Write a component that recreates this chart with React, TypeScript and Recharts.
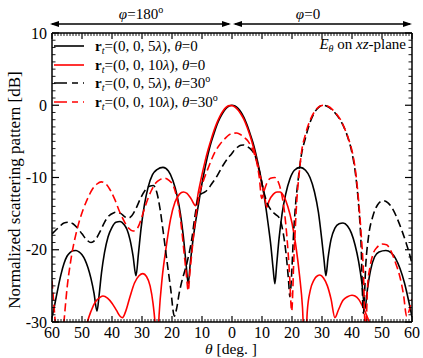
import React from 'react';
import { LineChart, Line, XAxis, YAxis } from 'recharts';

// ---- Data (theta in degrees: negative = phi=180 side, positive = phi=0 side) ----
const blackSolidTheta = [-60,-59,-58,-57,-56,-55,-54,-53,-52,-51,-50,-49,-48,-47,-46,-45,-44.3,-43.5,-42.5,-41.3,-40,-38.7,-37.3,-36,-35,-34,-33,-32,-31.2,-30.3,-29.2,-28,-26.5,-25,-23,-21.2,-19.7,-18.3,-17.2,-16.2,-15.3,-14.6,-13.9,-13,-12,-11,-10,-9,-8,-7,-6,-5,-4,-3,-2,-1,0,1,2,3,4,5,6,7,8,9,10,11,12,13,13.7,14.3,14.9,15.7,16.7,17.9,19.3,20.8,22.7,24.5,26,27.5,28.8,29.9,30.7,31.3,32,33,34.3,35.7,37,38.5,39.8,41,42.2,43.3,44.3,45.2,46.2,47.5,49,51.3,53,54.5,56,57.5,59,60];
const blackSolidDb = [-29.4,-27.4,-25.3,-23.4,-21.9,-20.9,-20.4,-20.15,-20.1,-20.3,-20.7,-21.4,-22.5,-24,-26,-28.5,-26.3,-23.2,-20.4,-18.2,-16.9,-16.2,-16.1,-16.5,-17.2,-18.6,-20.8,-23.6,-20.6,-17,-13.8,-11.4,-9.6,-8.9,-8.6,-9.1,-10.4,-12.5,-15,-18.2,-22,-24.7,-21.8,-18.6,-15.8,-13.3,-10.8,-8.7,-6.8,-5.2,-3.9,-2.7,-1.75,-1,-0.45,-0.12,0,-0.1,-0.42,-0.95,-1.7,-2.7,-3.9,-5.2,-6.8,-8.7,-10.8,-13.3,-16.3,-19.6,-22.6,-24.7,-22,-18.4,-15,-12.3,-10.2,-9,-8.6,-9,-10,-12,-14.8,-18.5,-21.5,-23.6,-21.2,-18.6,-17,-16.4,-16.3,-16.7,-17.7,-19.3,-21.6,-24.6,-28.2,-25.3,-22.8,-21,-20.3,-20.1,-20.4,-21.2,-22.6,-24.6,-27.3,-29.3];

const redSolidTheta = [-50,-48.5,-47,-45.5,-44,-43,-41.5,-40,-38.5,-37.3,-36.5,-35.5,-34,-32.5,-31,-29.7,-28.5,-27.3,-26.3,-25.5,-25,-24.3,-23.3,-22,-20.5,-19,-17.5,-16.2,-15,-13.7,-12.1,-11.2,-10,-9,-8,-7,-6,-5,-4,-3,-2,-1,0,1,2,3,4,5,6,7,8,9,10,10.9,11.6,12.4,13.8,15,16,17.3,18.6,20,21.3,22.5,23.5,24.3,25.1,26.1,27.3,28.5,29.3,30.5,31.8,33,34.3,35.5,37,38.5,40,41,42.3,43.5,44.8,46,47.5,49];
const redSolidDb = [-34,-30.5,-28.5,-27.2,-26.6,-26.4,-26.7,-27.4,-28.4,-29.2,-29.4,-28.6,-26.5,-24.6,-23.6,-23.3,-23.7,-25,-27.5,-31,-35,-29,-24,-19.8,-15.8,-13.4,-12.3,-12,-12.2,-12.9,-13.9,-12,-9.6,-7.8,-6.2,-4.8,-3.5,-2.4,-1.5,-0.8,-0.3,-0.05,-0.05,-0.25,-0.65,-1.25,-2,-3,-4.2,-5.6,-7.2,-9,-10.9,-12.7,-14.1,-13.2,-12.3,-12,-12,-12.6,-14,-16.3,-19.5,-23.5,-28,-35,-28.5,-25.6,-24.2,-23.6,-23.5,-23.9,-25,-26.8,-29.4,-28.3,-27,-26.5,-26.3,-26.4,-26.9,-27.8,-29,-30.3,-33,-37];

const blackDashTheta = [-60,-59,-57.5,-56,-54.5,-53,-51.5,-50,-48.5,-47,-45.5,-44,-42.5,-41,-39.5,-38.4,-37,-35.5,-34.5,-33.4,-32,-30.5,-29,-27.5,-26.2,-25.1,-24,-22.9,-21.7,-20.5,-19.2,-18.4,-17.6,-16.8,-15,-13.4,-12.3,-11.2,-10,-9,-7.8,-6.8,-5,-3.4,-1.5,-0.1,1,2,3,3.8,5,6.5,7.7,9,10.4,11.5,13.2,14.5,16,17,18,18.8,19.3,19.8,20.5,21.3,22,23,24.5,26,27.5,29,30.5,32,33.5,35,36.3,37.5,38.8,40,41.2,42.2,43,43.8,44.6,45.5,47,48.5,50.4,52,53.5,55,56.5,58,59.3,60];
const blackDashDb = [-17.8,-17.4,-16.8,-16.3,-16.2,-16.4,-17,-17.8,-18.6,-19,-18.6,-17.5,-16.2,-15.3,-14.9,-14.8,-15,-15.5,-15.6,-15.3,-14.3,-12.9,-11.8,-11.2,-11.1,-12,-14.3,-17.6,-21.5,-25.2,-29.2,-28,-26,-24.5,-21.8,-18.5,-15.2,-12.7,-12.2,-12,-11.5,-10.9,-9.8,-8.6,-7.4,-6.7,-6.1,-5.75,-5.55,-5.5,-5.7,-6.2,-7,-8.9,-11.6,-13.3,-14.6,-15.1,-15.8,-17.5,-20.5,-24,-26.5,-24,-18,-13.2,-10.5,-7.2,-4.5,-2.4,-1,-0.25,0,-0.2,-0.7,-1.4,-2.2,-3.2,-4.7,-6.6,-9.6,-13.8,-19,-28.8,-22,-18.2,-15.3,-13.8,-13.2,-13.5,-14.3,-15.6,-17.2,-19,-20.8,-22];

const redDashTheta = [-60,-59.2,-58.4,-57.5,-56.6,-55.7,-54.9,-54,-53,-52,-51,-49.5,-48,-46.5,-45,-43.6,-42,-40.5,-39,-37.5,-36,-34.5,-33,-32,-31,-30,-29,-28,-27,-25.5,-24,-22.5,-21,-19.6,-18.5,-17.5,-16.8,-16,-15.2,-14.6,-14,-13.4,-12.8,-12,-10.7,-9.5,-8.4,-7,-5.7,-4,-2.3,-1,0,1.6,3,4.2,5.4,6.5,7.5,8.3,9.1,9.9,10.6,11.5,12.8,14.3,15.5,16.5,17.5,18.3,19.1,19.9,20.6,21.6,22.4,23.2,24.5,26,27.5,29,30.5,32,33.5,35,36.3,37.5,38.8,40,41.2,42.2,43,43.8,44.5,45.2,46,47,48.5,50,51.5,53,54.5,56,57.2,58.2,59,60];
const redDashDb = [-24.3,-28.5,-33,-38,-33,-28.5,-25,-22.2,-19.7,-17.8,-16.2,-14.3,-12.8,-11.6,-10.9,-10.6,-10.9,-11.8,-13.1,-14.7,-16,-17,-17.4,-17.3,-16.6,-15.4,-14.1,-12.9,-11.9,-10.8,-10.3,-10.1,-10.4,-11.1,-12.6,-14.8,-17.1,-20.3,-23.5,-25.7,-23,-20.5,-18,-15.2,-12,-10.4,-9.2,-7.7,-6.5,-5.4,-4.6,-4.1,-3.9,-3.85,-4.1,-4.5,-5,-5.8,-6.8,-8,-10,-12.9,-12,-10.9,-10.1,-10,-10.7,-12.2,-14.8,-18.2,-22.8,-28.5,-21.5,-13.2,-9.4,-6.4,-4,-2.1,-0.9,-0.2,0,-0.15,-0.6,-1.3,-2.1,-3.2,-4.6,-6.3,-9.2,-13.2,-17.5,-23,-32,-25,-22.4,-20.6,-19.6,-19.2,-19.3,-20.2,-21.8,-23.8,-26.3,-29.2,-28.5,-26.8];

// ticks: labels every 10, minor ticks every 1
const xTicks = Array.from({ length: 121 }, (_, i) => i - 60);
const yTicks = Array.from({ length: 41 }, (_, i) => i - 30);

const zip = (t: number[], v: number[]) => t.map((x, i) => ({ t: x, v: v[i] }));
const blackSolid = zip(blackSolidTheta, blackSolidDb);
const redSolid = zip(redSolidTheta, redSolidDb);
const blackDash = zip(blackDashTheta, blackDashDb);
const redDash = zip(redDashTheta, redDashDb);

const CHART_W = 423;
const CHART_H = 358;
const MARGIN = { top: 33, right: 11, bottom: 0, left: 0 };
const PLOT_TOP = MARGIN.top;
const PLOT_RIGHT = CHART_W - MARGIN.right;

const SERIF = 'Liberation Serif, Tinos, DejaVu Serif, serif';
const isMajor = (v: number) => Math.abs(v % 10) < 1e-9;

// Custom tick renderers: inward tick marks on both opposite frame sides, plus labels
function BottomTick(props: any) {
  const { x, y, payload } = props;
  const v = payload.value as number;
  const major = isMajor(v);
  const len = major ? 6 : 3;
  const sw = major ? 1.2 : 0.9;
  return (
    <g>
      <line x1={x} y1={y} x2={x} y2={y - len} stroke="#000" strokeWidth={sw} />
      <line x1={x} y1={PLOT_TOP} x2={x} y2={PLOT_TOP + len} stroke="#000" strokeWidth={sw} />
      {major ? (
        <text x={x} y={y + 16} textAnchor="middle" fontSize={16} fill="#000" fontFamily={SERIF}>{String(Math.abs(v))}</text>
      ) : null}
    </g>
  );
}
function LeftTick(props: any) {
  const { x, y, payload } = props;
  const v = payload.value as number;
  const major = isMajor(v);
  const len = major ? 7 : 3.5;
  const sw = major ? 1.2 : 0.9;
  return (
    <g>
      <line x1={x} y1={y} x2={x + len} y2={y} stroke="#000" strokeWidth={sw} />
      <line x1={PLOT_RIGHT} y1={y} x2={PLOT_RIGHT - len} y2={y} stroke="#000" strokeWidth={sw} />
      {major ? (
        <text x={x - 5} y={y + 5.5} textAnchor="end" fontSize={16} fill="#000" fontFamily={SERIF}>{String(v)}</text>
      ) : null}
    </g>
  );
}

function Arrow({ x1, x2, y }: { x1: number; x2: number; y: number }) {
  const h = 9, w = 3;
  return (
    <g>
      <line x1={x1 + 2} y1={y} x2={x2 - 2} y2={y} stroke="#000" strokeWidth={1.3} />
      <polygon points={`${x1},${y} ${x1 + h},${y - w} ${x1 + h},${y + w}`} fill="#000" />
      <polygon points={`${x2},${y} ${x2 - h},${y - w} ${x2 - h},${y + w}`} fill="#000" />
    </g>
  );
}

function LegendRow({ y, color, dashed, lam, angle }: { y: number; color: string; dashed: boolean; lam: string; angle: string }) {
  return (
    <g>
      <line x1={54} y1={y} x2={84} y2={y} stroke={color} strokeWidth={1.6} strokeDasharray={dashed ? '13 5 6 5 1 10' : undefined} />
      <text x={95} y={y + 5} fontSize={15} fill="#000">
        <tspan fontWeight="bold">r</tspan>
        <tspan fontSize={10} fontStyle="italic" dy={3}>t</tspan>
        <tspan dy={-3}>{`=(0, 0, ${lam}`}</tspan>
        <tspan fontStyle="italic">λ</tspan>
        <tspan>{'), '}</tspan>
        <tspan fontStyle="italic">θ</tspan>
        <tspan>{`=${angle}`}</tspan>
        {angle !== '0' ? <tspan fontSize={10} dy={-6}>o</tspan> : null}
      </text>
    </g>
  );
}

export default function App() {
  return (
    <div style={{ position: 'absolute', left: 0, top: 0, width: CHART_W, height: CHART_H, background: '#fff', fontFamily: SERIF }}>
      <LineChart width={CHART_W} height={CHART_H} data={blackSolid} margin={MARGIN} style={{ fontFamily: SERIF }}>
        <XAxis xAxisId="x" type="number" dataKey="t" domain={[-60, 60]} allowDataOverflow ticks={xTicks} interval={0}
          tickLine={false} tickSize={0} tickMargin={0} height={36}
          axisLine={{ stroke: '#000', strokeWidth: 1.5 }} tick={BottomTick} />
        <XAxis xAxisId="xt" type="number" orientation="top" mirror domain={[-60, 60]} allowDataOverflow ticks={[-60, 0, 60]} interval={0}
          tick={false} tickLine={false} height={10} axisLine={{ stroke: '#000', strokeWidth: 1.5 }} />
        <YAxis yAxisId="y" type="number" domain={[-30, 10]} allowDataOverflow ticks={yTicks} interval={0}
          tickLine={false} tickSize={0} tickMargin={0} width={52}
          axisLine={{ stroke: '#000', strokeWidth: 1.5 }} tick={LeftTick} />
        <YAxis yAxisId="yr" type="number" orientation="right" mirror domain={[-30, 10]} allowDataOverflow ticks={[-30, 10]} interval={0}
          tick={false} tickLine={false} width={10} axisLine={{ stroke: '#000', strokeWidth: 1.5 }} />

        <Line xAxisId="x" yAxisId="y" data={blackSolid} dataKey="v" type="monotone" stroke="#000" strokeWidth={1.6} dot={false} isAnimationActive={false} />
        <Line xAxisId="x" yAxisId="y" data={redSolid} dataKey="v" type="monotone" stroke="#ff0000" strokeWidth={1.6} dot={false} isAnimationActive={false} />
        <Line xAxisId="x" yAxisId="y" data={blackDash} dataKey="v" type="monotone" stroke="#000" strokeWidth={1.6} strokeDasharray="8 4" dot={false} isAnimationActive={false} />
        <Line xAxisId="x" yAxisId="y" data={redDash} dataKey="v" type="monotone" stroke="#ff0000" strokeWidth={1.6} strokeDasharray="8 4" dot={false} isAnimationActive={false} />
      </LineChart>

      <svg width={CHART_W} height={CHART_H} style={{ position: 'absolute', left: 0, top: 0, pointerEvents: 'none', fontFamily: SERIF }}>
        {/* top annotations */}
        <Arrow x1={50} x2={231} y={24} />
        <Arrow x1={233} x2={412} y={24} />
        <text x={141} y={19} fontSize={15} textAnchor="middle" fill="#000">
          <tspan fontStyle="italic">φ</tspan>
          <tspan>=180</tspan>
          <tspan fontSize={10} dy={-6}>o</tspan>
        </text>
        <text x={308} y={19} fontSize={15} textAnchor="middle" fill="#000">
          <tspan fontStyle="italic">φ</tspan>
          <tspan>=0</tspan>
        </text>

        {/* legend */}
        <LegendRow y={46} color="#000" dashed={false} lam="5" angle="0" />
        <LegendRow y={65} color="#ff0000" dashed={false} lam="10" angle="0" />
        <LegendRow y={83} color="#000" dashed={true} lam="5" angle="30" />
        <LegendRow y={102} color="#ff0000" dashed={true} lam="10" angle="30" />

        <text x={406} y={49} fontSize={15} textAnchor="end" fill="#000">
          <tspan fontStyle="italic">E</tspan>
          <tspan fontSize={10} fontStyle="italic" dy={3}>θ</tspan>
          <tspan dy={-3}> on </tspan>
          <tspan fontStyle="italic">xz</tspan>
          <tspan>-plane</tspan>
        </text>

        {/* axis titles */}
        <text transform="translate(20,190) rotate(-90)" fontSize={17} textAnchor="middle" fill="#000">
          Normalized scattering pattern [dB]
        </text>
        <text x={231} y={354} fontSize={15.5} textAnchor="middle" fill="#000">
          <tspan fontStyle="italic">θ</tspan>
          <tspan> [deg. ]</tspan>
        </text>
      </svg>
    </div>
  );
}
